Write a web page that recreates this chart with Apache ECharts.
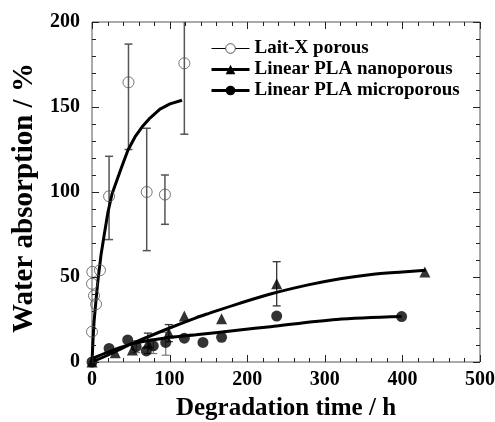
<!DOCTYPE html>
<html>
<head>
<meta charset="utf-8">
<script src="https://cdn.jsdelivr.net/npm/echarts@6/dist/echarts.min.js"></script>
<style>
  html, body { margin: 0; padding: 0; background: #fff; }
  #chart { width: 495px; height: 422px; }
</style>
</head>
<body>
<div id="chart"></div>
<script>
// measured points
const laitX = [0, 0.4, 0, 2.6, 5.2, 10.3, 22, 47, 70.5, 94, 119]
const laitY = [17.8, 53, 46, 39, 34, 54, 97.5, 164.5, 100, 98.5, 175.7]
const nanoX = [0, 30, 52, 72, 99, 119, 167, 238, 429]
const nanoY = [0, 5.5, 7, 11, 17, 27, 25.5, 46, 53]
const microX = [0, 22, 46, 57, 70, 79, 95, 119, 143, 167, 238, 399]
const microY = [0, 8, 13, 9, 6.5, 9.5, 11.5, 14, 11.5, 14.5, 27, 26.7]

// error bars: [x, low, high]
const laitErr = [[22, 72, 121], [47, 125, 187], [70.5, 65.5, 137.5], [94, 81, 110], [119, 134, 218]]
const nanoErr = [[72, 5, 17], [99, 12, 22], [238, 33, 59]]
const microErr = [[57, 5.5, 12.5], [79, 5, 13.5], [95, 4, 17.5]]

// fitted curves
const laitFitX = [0, 1.3, 2.6, 5.2, 7.7, 11.6, 15.5, 20.6, 25.8, 32.2, 38.7, 46.4, 55.4, 64.4, 74.7, 87.6, 100.5, 116]
const laitFitY = [0, 12.9, 23.5, 36.5, 48.2, 62.9, 74.1, 88.2, 98.8, 107, 115.3, 124.7, 132.4, 138.2, 143.5, 148.8, 151.8, 154]
const nanoFitX = [0, 25, 50, 100, 134, 150, 190, 230, 280, 320, 360, 400, 430]
const nanoFitY = [0, 5, 10.5, 20, 26, 28.5, 34.5, 40, 45.5, 49, 51.5, 53, 54]
const microFitX = [0, 50, 100, 134, 190, 230, 315, 399]
const microFitY = [2, 10.5, 14.5, 16, 18.8, 20.8, 25, 26.7]

const xTicks = [0, 100, 200, 300, 400, 500]
const yTicks = [0, 50, 100, 150, 200]
const xMinorStep = 20
const yMinorStep = 10

const names = ['Lait-X porous', 'Linear PLA nanoporous', 'Linear PLA microporous']
const font = 'Liberation Serif'

const zip = (xs, ys) => xs.map((x, i) => [x, ys[i]])

function errBar(color, width) {
  return function (params, api) {
    const x = api.value(0)
    const lo = api.coord([x, api.value(1)])
    const hi = api.coord([x, api.value(2)])
    const c = 4
    const st = { stroke: color, lineWidth: width }
    return {
      type: 'group',
      children: [
        { type: 'line', shape: { x1: lo[0], y1: lo[1], x2: hi[0], y2: hi[1] }, style: st },
        { type: 'line', shape: { x1: lo[0] - c, y1: lo[1], x2: lo[0] + c, y2: lo[1] }, style: st },
        { type: 'line', shape: { x1: hi[0] - c, y1: hi[1], x2: hi[0] + c, y2: hi[1] }, style: st }
      ]
    }
  }
}

const labelStyle = { fontFamily: font, fontWeight: 'bold', fontSize: 20, color: '#000' }

const chart = echarts.init(document.getElementById('chart'))
chart.setOption({
  animation: false,
  backgroundColor: '#fff',
  grid: { left: 92, right: 15, top: 22, bottom: 60, show: true, borderColor: '#555', borderWidth: 1, outerBoundsMode: 'none' },
  legend: {
    orient: 'vertical',
    left: 205,
    top: 34,
    itemWidth: 38,
    itemHeight: 12,
    itemGap: 2,
    textStyle: { fontFamily: font, fontWeight: 'bold', fontSize: 19, color: '#000', lineHeight: 18 },
    data: [
      { name: names[0], lineStyle: { width: 1, color: '#000' }, itemStyle: { color: '#fff', borderColor: '#555', borderWidth: 1 } },
      { name: names[1], lineStyle: { width: 3, color: '#000' }, itemStyle: { color: '#000' } },
      { name: names[2], lineStyle: { width: 3, color: '#000' }, itemStyle: { color: '#000' } }
    ]
  },
  xAxis: {
    type: 'value', min: xTicks[0], max: xTicks[xTicks.length - 1], interval: 100,
    axisLine: { show: false, onZero: false }, axisTick: { show: false }, splitLine: { show: false },
    name: 'Degradation time / h', nameLocation: 'middle', nameGap: 34,
    nameTextStyle: { fontFamily: font, fontWeight: 'bold', fontSize: 25, color: '#000' },
    axisLabel: Object.assign({ margin: 8 }, labelStyle)
  },
  yAxis: {
    type: 'value', min: yTicks[0], max: yTicks[yTicks.length - 1], interval: 50,
    axisLine: { show: false, onZero: false }, axisTick: { show: false }, splitLine: { show: false },
    name: 'Water absorption / %', nameLocation: 'middle', nameGap: 52, nameRotate: 90,
    nameTextStyle: { fontFamily: font, fontWeight: 'bold', fontSize: 29, color: '#000', padding: [0, 12, 0, 0] },
    axisLabel: Object.assign({ margin: 12 }, labelStyle)
  },
  series: [
    {
      name: names[0], type: 'line', data: zip(laitFitX, laitFitY), smooth: false,
      symbol: 'circle', showSymbol: false, lineStyle: { color: '#000', width: 3, join: 'round' }, itemStyle: { color: '#000' }, z: 3
    },
    {
      name: names[1], type: 'line', data: zip(nanoFitX, nanoFitY), smooth: 0.3,
      symbol: 'triangle', showSymbol: false, lineStyle: { color: '#000', width: 3 }, itemStyle: { color: '#000' }, z: 3
    },
    {
      name: names[2], type: 'line', data: zip(microFitX, microFitY), smooth: 0.3,
      symbol: 'circle', showSymbol: false, lineStyle: { color: '#000', width: 3 }, itemStyle: { color: '#000' }, z: 3
    },
    {
      name: names[0], type: 'custom', data: laitErr, clip: true,
      encode: { x: 0, y: [1, 2] }, renderItem: errBar('#555', 1.5), z: 2
    },
    {
      name: names[1], type: 'custom', data: nanoErr, clip: true,
      encode: { x: 0, y: [1, 2] }, renderItem: errBar('#333', 1.3), z: 2
    },
    {
      name: names[2], type: 'custom', data: microErr, clip: true,
      encode: { x: 0, y: [1, 2] }, renderItem: errBar('#777', 1.2), z: 2
    },
    {
      name: names[0], type: 'scatter', data: zip(laitX, laitY), symbol: 'circle', symbolSize: 11,
      itemStyle: { color: 'rgba(255,255,255,0)', borderColor: '#555', borderWidth: 1 }, z: 4
    },
    {
      name: names[1], type: 'scatter', data: zip(nanoX, nanoY), symbol: 'triangle', symbolSize: 11,
      itemStyle: { color: '#000' }, z: 4
    },
    {
      name: names[2], type: 'scatter', data: zip(microX, microY), symbol: 'circle', symbolSize: 11,
      itemStyle: { color: '#000' }, z: 4
    }
  ]
})

// inward tick marks on all four sides, placed through the chart's own scales
const x0 = xTicks[0], x1 = xTicks[xTicks.length - 1]
const y0 = yTicks[0], y1 = yTicks[yTicks.length - 1]
const pLo = chart.convertToPixel({ gridIndex: 0 }, [x0, y0])
const pHi = chart.convertToPixel({ gridIndex: 0 }, [x1, y1])
const tickStyle = { stroke: '#222', lineWidth: 1 }
const ticks = []
for (let v = x0; v <= x1; v += xMinorStep) {
  const px = Math.round(chart.convertToPixel({ gridIndex: 0 }, [v, y0])[0]) + 0.5
  const len = xTicks.includes(v) ? 7 : 4
  ticks.push({ type: 'line', silent: true, z: 100, shape: { x1: px, y1: pLo[1], x2: px, y2: pLo[1] - len }, style: tickStyle })
  ticks.push({ type: 'line', silent: true, z: 100, shape: { x1: px, y1: pHi[1], x2: px, y2: pHi[1] + len }, style: tickStyle })
}
for (let v = y0; v <= y1; v += yMinorStep) {
  const py = Math.round(chart.convertToPixel({ gridIndex: 0 }, [x0, v])[1]) + 0.5
  const len = yTicks.includes(v) ? 7 : 4
  ticks.push({ type: 'line', silent: true, z: 100, shape: { x1: pLo[0], y1: py, x2: pLo[0] + len, y2: py }, style: tickStyle })
  ticks.push({ type: 'line', silent: true, z: 100, shape: { x1: pHi[0], y1: py, x2: pHi[0] - len, y2: py }, style: tickStyle })
}
chart.setOption({ graphic: { elements: ticks } })
</script>
</body>
</html>
